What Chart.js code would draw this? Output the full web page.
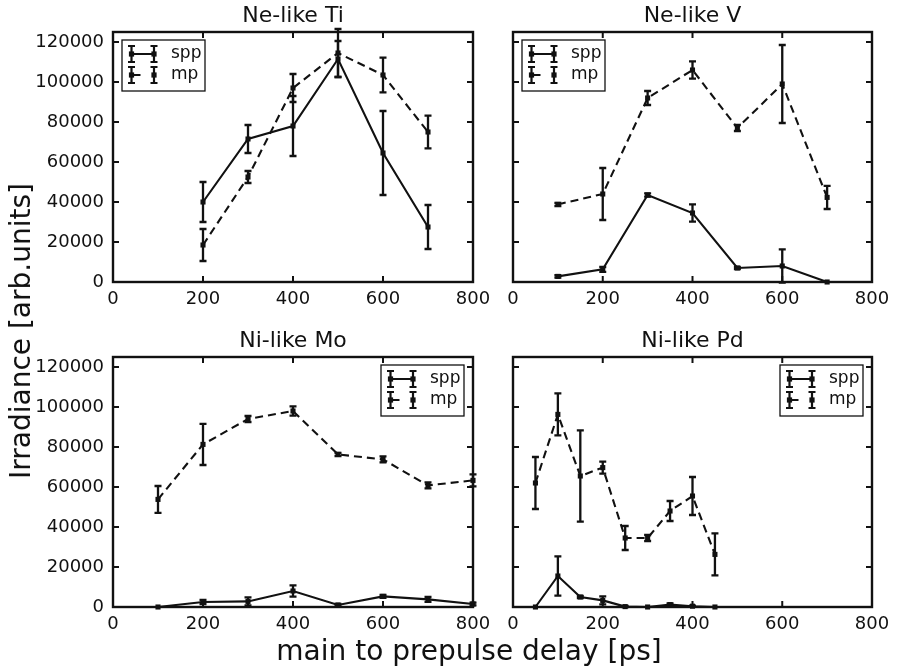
<!DOCTYPE html>
<html><head><meta charset="utf-8">
<script src="https://cdn.jsdelivr.net/npm/chart.js@4/dist/chart.umd.min.js"></script>
<style>
html,body{margin:0;padding:0;background:#fff;}
#wrap{position:relative;width:898px;height:672px;overflow:hidden;font-family:'DejaVu Sans',sans-serif;background:#fff;}
canvas{position:absolute;left:0;top:0;}
.xl{position:absolute;left:0;width:938px;top:633px;text-align:center;font-size:28px;line-height:36px;color:#111;white-space:nowrap;}
.yl{position:absolute;left:21px;top:331px;transform:translate(-50%,-50%) rotate(-90deg);font-size:28px;line-height:32px;color:#111;white-space:nowrap;}
</style></head>
<body>
<div id="wrap">
<canvas id="c1" width="898" height="672"></canvas>
<canvas id="c2" width="898" height="672"></canvas>
<canvas id="c3" width="898" height="672"></canvas>
<canvas id="c4" width="898" height="672"></canvas>
<div class="xl">main to prepulse delay [ps]</div>
<div class="yl">Irradiance [arb.units]</div>
</div>
<script>
// ---- data ----
const xTicks = [0, 200, 400, 600, 800];
const yTicks = [0, 20000, 40000, 60000, 80000, 100000, 120000];
const seriesNames = ['spp', 'mp'];

const tiTitle = 'Ne-like Ti';
const tiX = [200, 300, 400, 500, 600, 700];
const tiSpp = [40000, 71500, 78000, 111500, 64500, 27500];
const tiSppErr = [10000, 7000, 15000, 9000, 21000, 11000];
const tiMp = [18500, 52500, 97000, 114500, 103500, 75000];
const tiMpErr = [8000, 3000, 7000, 12000, 8700, 8200];

const vTitle = 'Ne-like V';
const vX = [100, 200, 300, 400, 500, 600, 700];
const vSpp = [2800, 6300, 43500, 34500, 7000, 8000, 0];
const vSppErr = [600, 1200, 800, 4300, 600, 8300, 0];
const vMp = [38800, 44000, 92000, 106000, 77000, 99000, 42300];
const vMpErr = [800, 13000, 3500, 4300, 1500, 19500, 5800];

const moTitle = 'Ni-like Mo';
const moX = [100, 200, 300, 400, 500, 600, 700, 800];
const moSpp = [0, 2500, 2800, 8000, 1000, 5300, 3800, 1500];
const moSppErr = [0, 1000, 2000, 2800, 500, 700, 1200, 700];
const moMp = [53800, 81300, 94000, 98000, 76300, 73800, 60800, 63300];
const moMpErr = [6700, 10300, 1500, 2300, 800, 1500, 1500, 3000];

const pdTitle = 'Ni-like Pd';
const pdX = [50, 100, 150, 200, 250, 300, 350, 400, 450];
const pdSpp = [0, 15500, 5000, 3300, 200, 0, 1200, 400, 0];
const pdSppErr = [0, 9800, 500, 2000, 300, 0, 600, 300, 0];
const pdMp = [62000, 96300, 65500, 69700, 34500, 34500, 48000, 55500, 26300];
const pdMpErr = [13000, 10500, 22800, 3000, 6000, 1500, 5000, 9500, 10500];

// ---- styling ----
const FONT = 'DejaVu Sans';
const TXT = '#111';

const decor = {
  id: 'decor',
  afterDatasetsDraw(chart) {
    const ctx = chart.ctx, ys = chart.scales.y;
    chart.data.datasets.forEach((ds, di) => {
      const meta = chart.getDatasetMeta(di);
      ctx.save();
      ctx.strokeStyle = '#111'; ctx.lineWidth = 2.3; ctx.setLineDash([]);
      ds.data.forEach((p, i) => {
        const e = ds.errors[i];
        if (!e) return;
        const x = meta.data[i].x;
        const t = ys.getPixelForValue(p.y + e), b = ys.getPixelForValue(p.y - e);
        ctx.beginPath();
        ctx.moveTo(x, t); ctx.lineTo(x, b);
        ctx.moveTo(x - 3.5, t); ctx.lineTo(x + 3.5, t);
        ctx.moveTo(x - 3.5, b); ctx.lineTo(x + 3.5, b);
        ctx.stroke();
      });
      ctx.restore();
    });
  },
  afterDraw(chart) {
    const ctx = chart.ctx, a = chart.chartArea;
    const xs = chart.scales.x, ys = chart.scales.y;
    ctx.save();
    ctx.strokeStyle = '#111'; ctx.setLineDash([]);
    // inward ticks
    ctx.lineWidth = 2;
    ctx.beginPath();
    xTicks.forEach(v => {
      const x = xs.getPixelForValue(v);
      ctx.moveTo(x, a.bottom); ctx.lineTo(x, a.bottom - 6);
      ctx.moveTo(x, a.top); ctx.lineTo(x, a.top + 6);
    });
    yTicks.forEach(v => {
      const y = ys.getPixelForValue(v);
      ctx.moveTo(a.left, y); ctx.lineTo(a.left + 6, y);
      ctx.moveTo(a.right, y); ctx.lineTo(a.right - 6, y);
    });
    ctx.stroke();
    // frame
    ctx.lineWidth = 2.4;
    ctx.strokeRect(a.left, a.top, a.right - a.left, a.bottom - a.top);
    // legend
    const opt = chart.options.plugins.decor;
    const w = 83, h = 51;
    const bx = opt.legendPos === 'tl' ? a.left + 9 : a.right - 9 - w;
    const by = a.top + 8;
    ctx.fillStyle = '#fff';
    ctx.fillRect(bx, by, w, h);
    ctx.lineWidth = 1.3; ctx.strokeStyle = '#111';
    ctx.strokeRect(bx, by, w, h);
    const rows = [by + 14, by + 35];
    chart.data.datasets.forEach((ds, i) => {
      const y = rows[i], x1 = bx + 9.5, x2 = bx + 32;
      ctx.strokeStyle = '#111'; ctx.fillStyle = '#111';
      ctx.lineWidth = 2;
      ctx.beginPath();
      if (i === 0) { ctx.moveTo(x1, y); ctx.lineTo(x2, y); }
      else { ctx.moveTo(x1, y); ctx.lineTo(x1 + 9, y); }
      ctx.stroke();
      ctx.lineWidth = 2.2;
      ctx.beginPath();
      [x1, x2].forEach(x => {
        ctx.moveTo(x, y - 8); ctx.lineTo(x, y + 8);
        ctx.moveTo(x - 3.5, y - 8); ctx.lineTo(x + 3.5, y - 8);
        ctx.moveTo(x - 3.5, y + 8); ctx.lineTo(x + 3.5, y + 8);
      });
      ctx.stroke();
      [x1, x2].forEach(x => ctx.fillRect(x - 2.6, y - 2.6, 5.2, 5.2));
      ctx.font = '17px "' + FONT + '"';
      ctx.fillStyle = TXT; ctx.textBaseline = 'middle'; ctx.textAlign = 'left';
      ctx.fillText(ds.label, bx + 49, y);
    });
    ctx.restore();
  }
};

function makePanel(id, title, xs, spp, sppErr, mp, mpErr, pad, showY, legendPos) {
  const mk = (vals) => xs.map((x, i) => ({ x: x, y: vals[i] }));
  const base = {
    type: 'line', showLine: true, borderColor: '#111', borderWidth: 2.1,
    pointStyle: 'rect', pointRadius: 3.6, pointBackgroundColor: '#111',
    pointBorderColor: '#111', pointBorderWidth: 0, tension: 0, fill: false, clip: false
  };
  new Chart(document.getElementById(id), {
    type: 'line',
    data: {
      datasets: [
        Object.assign({}, base, { label: seriesNames[0], data: mk(spp), errors: sppErr }),
        Object.assign({}, base, { label: seriesNames[1], data: mk(mp), errors: mpErr, borderDash: [8, 5] })
      ]
    },
    options: {
      responsive: false, animation: false, devicePixelRatio: 1,
      layout: { padding: pad },
      plugins: {
        legend: { display: false },
        tooltip: { enabled: false },
        title: {
          display: true, text: title, fullSize: false, color: TXT,
          font: { family: FONT, size: 22, weight: 'normal', lineHeight: 1 },
          padding: { top: 5, bottom: 5 }
        },
        decor: { legendPos: legendPos }
      },
      scales: {
        x: {
          type: 'linear', min: 0, max: 800,
          afterBuildTicks: s => { s.ticks = xTicks.map(v => ({ value: v })); },
          afterFit: s => { s.height = 38; },
          ticks: { font: { family: FONT, size: 18 }, color: TXT, padding: 7, maxRotation: 0, autoSkip: false, callback: v => String(v) },
          grid: { display: false, drawTicks: false },
          border: { display: false }
        },
        y: {
          type: 'linear', min: 0, max: 125000,
          afterBuildTicks: s => { s.ticks = yTicks.map(v => ({ value: v })); },
          afterFit: s => { s.width = showY ? 100 : 10; },
          ticks: { display: showY, font: { family: FONT, size: 18 }, color: TXT, padding: 9, autoSkip: false, callback: v => String(v) },
          grid: { display: false, drawTicks: false },
          border: { display: false }
        }
      }
    },
    plugins: [decor]
  });
}

makePanel('c1', tiTitle, tiX, tiSpp, tiSppErr, tiMp, tiMpErr, { left: 13, top: 0, right: 425, bottom: 352 }, true, 'tl');
makePanel('c2', vTitle, vX, vSpp, vSppErr, vMp, vMpErr, { left: 503, top: 0, right: 26, bottom: 352 }, false, 'tl');
makePanel('c3', moTitle, moX, moSpp, moSppErr, moMp, moMpErr, { left: 13, top: 325, right: 425, bottom: 27 }, true, 'tr');
makePanel('c4', pdTitle, pdX, pdSpp, pdSppErr, pdMp, pdMpErr, { left: 503, top: 325, right: 26, bottom: 27 }, false, 'tr');
</script>
</body></html>
